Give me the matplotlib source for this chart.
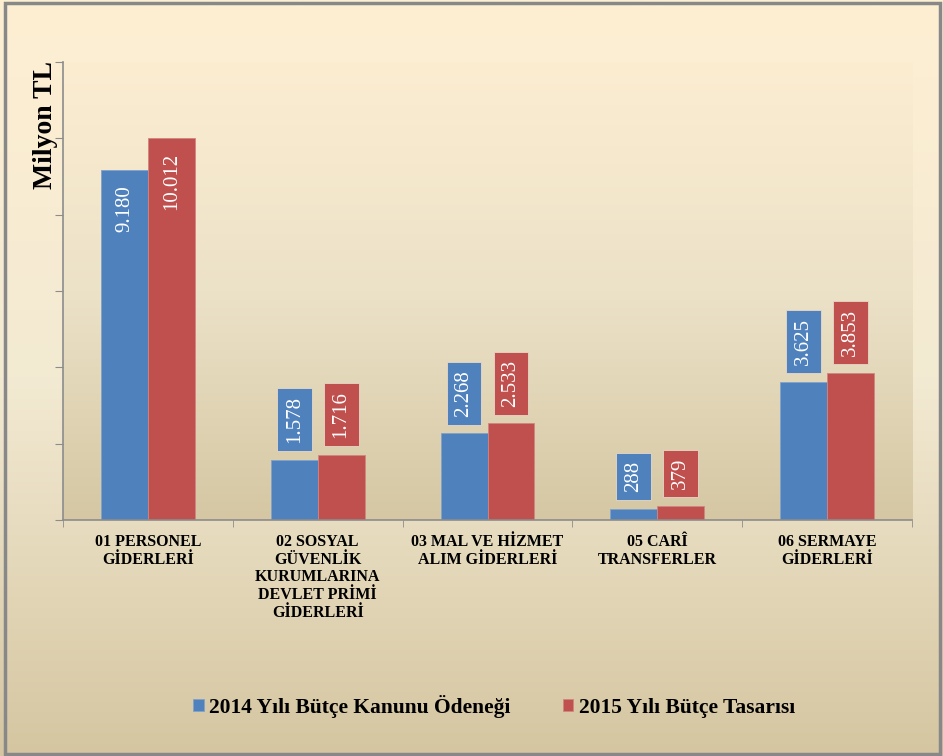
import numpy as np
import matplotlib
matplotlib.use("Agg")
import matplotlib.pyplot as plt
from matplotlib.colors import LinearSegmentedColormap
from matplotlib.patches import Rectangle

kategoriler = ["01 PERSONEL\nGİDERLERİ",
               "02 SOSYAL\nGÜVENLİK\nKURUMLARINA\nDEVLET PRİMİ\nGİDERLERİ",
               "03 MAL VE HİZMET\nALIM GİDERLERİ",
               "05 CARÎ\nTRANSFERLER",
               "06 SERMAYE\nGİDERLERİ"]
odenek_2014 = [9180, 1578, 2268, 288, 3625]
tasari_2015 = [10012, 1716, 2533, 379, 3853]
seri_adlari = ["2014 Yılı Bütçe Kanunu Ödeneği", "2015 Yılı Bütçe Tasarısı"]

mavi = "#4F81BD"
kirmizi = "#C0504D"
serif = ["Liberation Serif", "DejaVu Serif"]

def tl(v):
    return f"{v:,}".replace(",", ".")

fig = plt.figure(figsize=(9.43, 7.56), dpi=100)

# arka plan gradyan
bg = fig.add_axes([0, 0, 1, 1], zorder=-10)
cm_fig = LinearSegmentedColormap.from_list("fig", ["#D5C6A1", "#F3EAD3", "#FEEFD2"])
bg.imshow(np.linspace(0, 1, 256).reshape(-1, 1), aspect="auto", cmap=cm_fig,
          origin="lower", extent=(0, 1, 0, 1))
bg.add_patch(Rectangle((0.005, 0.003), 0.992, 0.993, fill=False,
                       edgecolor="#888888", linewidth=2.5))
bg.set_xlim(0, 1)
bg.set_ylim(0, 1)
bg.axis("off")

ax = fig.add_axes([63 / 943, 1 - 520 / 756, (912 - 63) / 943, (520 - 62) / 756])
ax.patch.set_alpha(0)
cm_ax = LinearSegmentedColormap.from_list("ax", ["#D5C7A3", "#ECE2C8", "#FCEDD1"])
ax.imshow(np.linspace(0, 1, 256).reshape(-1, 1), aspect="auto", cmap=cm_ax,
          origin="lower", extent=(-0.5, 4.5, 0, 12000), zorder=0)

x = np.arange(len(kategoriler))
w = 0.276
b1 = ax.bar(x - w / 2, odenek_2014, w, color=mavi, edgecolor="#7FA2CF", linewidth=0.6,
            label=seri_adlari[0], zorder=2)
b2 = ax.bar(x + w / 2, tasari_2015, w, color=kirmizi, edgecolor="#D08582", linewidth=0.6,
            label=seri_adlari[1], zorder=2)

for bars, renk in ((b1, mavi), (b2, kirmizi)):
    for i, r in enumerate(bars):
        v = r.get_height()
        cx = r.get_x() + r.get_width() / 2
        if i == 0:
            ax.annotate(tl(v), (cx, v), xytext=(0, -11), textcoords="offset points",
                        ha="center", va="top", rotation=90, color="white",
                        fontsize=15, family=serif, zorder=3)
        else:
            ax.annotate(tl(v), (cx, v), xytext=(0, 12), textcoords="offset points",
                        ha="center", va="bottom", rotation=90, color="white",
                        fontsize=15, family=serif, zorder=3,
                        bbox=dict(boxstyle="square,pad=0.38", facecolor=renk,
                                  edgecolor="#E8D8C8", linewidth=0.6))

ax.set_xlim(-0.5, 4.5)
ax.set_ylim(0, 12000)
ax.set_yticks(np.arange(0, 12001, 2000))
ax.set_yticklabels([])
ax.set_xticks(x)
ax.set_xticklabels(kategoriler, fontsize=11.5, fontweight="bold", family=serif,
                   linespacing=1.15, va="top")
ax.set_xticks(np.arange(-0.5, 4.6, 1), minor=True)
ax.tick_params(axis="x", which="major", length=0, pad=10)
ax.tick_params(axis="x", which="minor", length=5, color="#8C8C8C")
ax.tick_params(axis="y", length=6, color="#8C8C8C")
for s in ("top", "right"):
    ax.spines[s].set_visible(False)
for s in ("left", "bottom"):
    ax.spines[s].set_color("#8C8C8C")
    ax.spines[s].set_linewidth(1.2)

fig.text(46 / 943, 1 - 61 / 756, "Milyon TL", rotation=90, ha="center", va="top",
         fontsize=20, fontweight="bold", family=serif)

fig.legend(handles=[b1, b2], labels=seri_adlari, loc="center",
           bbox_to_anchor=(0.524, 1 - 706 / 756), ncol=2, frameon=False,
           prop=dict(family=serif, weight="bold", size=15.5),
           handlelength=0.5, handleheight=0.5, handletextpad=0.25, columnspacing=2.4)

fig.savefig("out.png", dpi=100)
